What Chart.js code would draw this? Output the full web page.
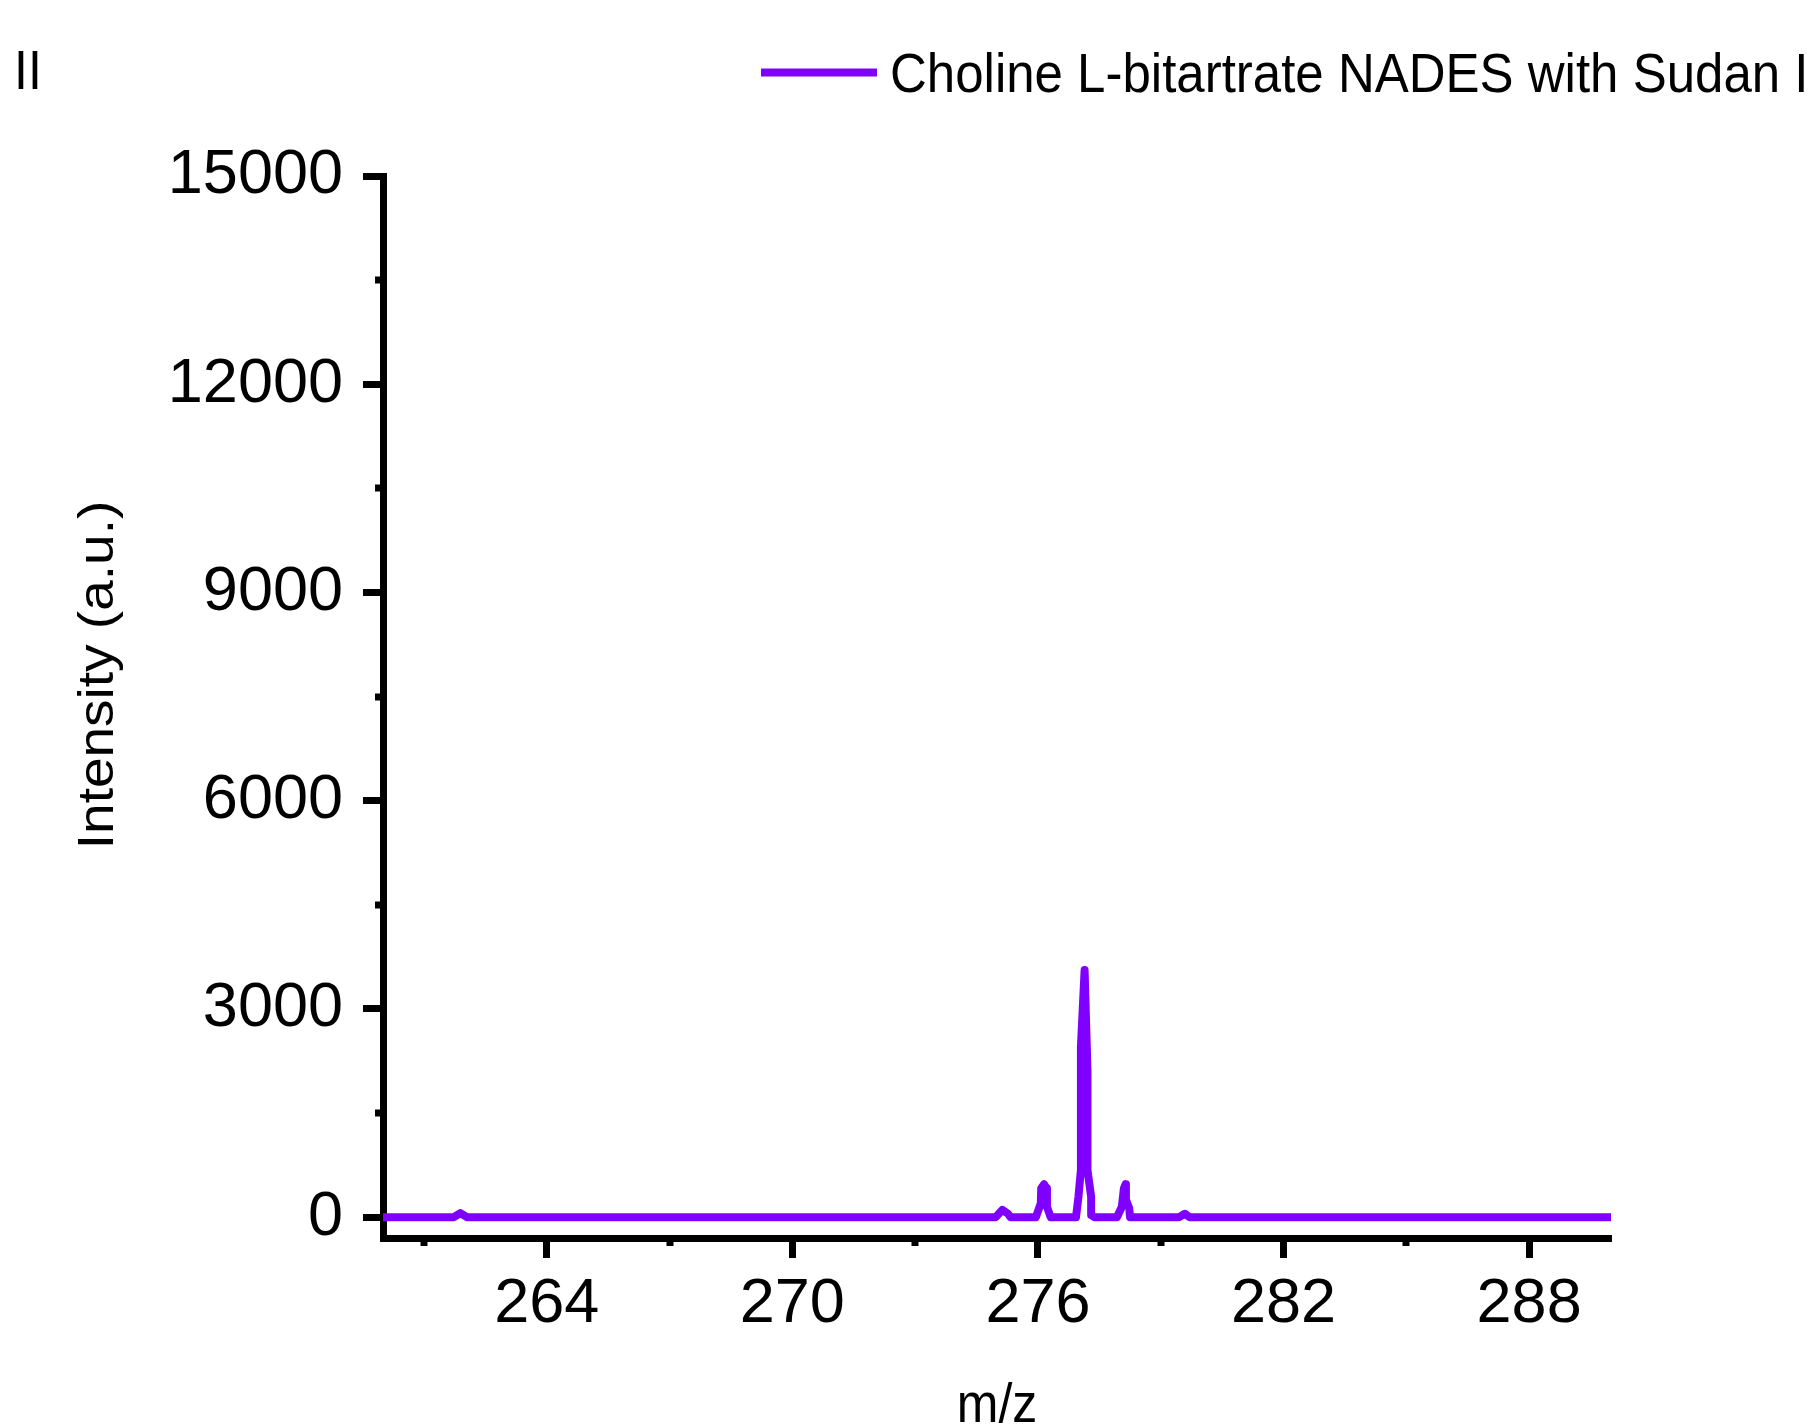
<!DOCTYPE html>
<html>
<head>
<meta charset="utf-8">
<title>Choline L-bitartrate NADES with Sudan I</title>
<script src="https://cdn.jsdelivr.net/npm/chart.js@4.4.1/dist/chart.umd.min.js"></script>
<style>
  html, body { margin: 0; padding: 0; background: #fff; }
  canvas { display: block; }
</style>
</head>
<body>
<canvas id="grafico" width="1816" height="1425"></canvas>
<script>
const mzValues = [
  260, 261.73, 261.89, 262.05,
  274.97, 275.13, 275.27, 275.33,
  275.95, 276.07, 276.08, 276.15, 276.21, 276.22, 276.31,
  276.93, 276.99, 277.05, 277.05, 277.14, 277.21, 277.21, 277.30, 277.30, 277.38,
  277.93, 278.05, 278.10, 278.14, 278.15, 278.23, 278.25,
  279.45, 279.59, 279.70,
  290
];
const intensityValues = [
  0, 0, 60, 0,
  0, 105, 50, 0,
  0, 200, 415, 475, 415, 150, 0,
  0, 295, 680, 2455, 3560, 2120, 680, 295, 30, 0,
  0, 150, 415, 475, 250, 130, 0,
  0, 50, 0,
  0
];
const xTicks = [264, 270, 276, 282, 288];
const xMinorTicks = [261, 267, 273, 279, 285];
const yTicks = [0, 3000, 6000, 9000, 12000, 15000];
const yMinorTicks = [1500, 4500, 7500, 10500, 13500];

const serieLabel = 'Choline L-bitartrate NADES with Sudan I';
const panelLabel = 'II';
const xTitle = 'm/z';
const yTitle = 'Intensity (a.u.)';

const purpura = '#8000FF';
const fuente = '"Liberation Sans", Arial, sans-serif';

Chart.defaults.font.family = fuente;
Chart.defaults.color = '#000';

// texto con un poco de estiramiento vertical como en la figura original
function textoEstirado(ctx, texto, x, y, sx, sy, rot) {
  ctx.save();
  ctx.translate(x, y);
  if (rot) ctx.rotate(rot);
  ctx.scale(sx, sy);
  ctx.fillText(texto, 0, 0);
  ctx.restore();
}

// ticks menores, titulos, leyenda y etiqueta del panel
const extras = {
  id: 'extras',
  afterDraw(chart) {
    const ctx = chart.ctx;
    const xs = chart.scales.x;
    const ys = chart.scales.y;
    const area = chart.chartArea;

    ctx.save();
    ctx.strokeStyle = '#000';
    ctx.lineWidth = 7;
    yMinorTicks.forEach(v => {
      const py = Math.round(ys.getPixelForValue(v));
      ctx.beginPath();
      ctx.moveTo(area.left - 8, py);
      ctx.lineTo(area.left, py);
      ctx.stroke();
    });
    xMinorTicks.forEach(v => {
      const px = Math.round(xs.getPixelForValue(v));
      ctx.beginPath();
      ctx.moveTo(px, area.bottom);
      ctx.lineTo(px, area.bottom + 8);
      ctx.stroke();
    });

    ctx.fillStyle = '#000';
    ctx.font = '50px ' + fuente;
    ctx.textBaseline = 'alphabetic';

    ctx.textAlign = 'left';
    textoEstirado(ctx, panelLabel, 14, 89, 1, 1.1);

    ctx.textAlign = 'center';
    textoEstirado(ctx, xTitle, (area.left + area.right) / 2, 1422, 1, 1.1);
    textoEstirado(ctx, yTitle, 113, 675, 1.1, 1, -Math.PI / 2);

    // leyenda
    ctx.strokeStyle = purpura;
    ctx.lineWidth = 8;
    ctx.beginPath();
    ctx.moveTo(761, 72.5);
    ctx.lineTo(877, 72.5);
    ctx.stroke();
    ctx.font = '51px ' + fuente;
    ctx.textAlign = 'left';
    textoEstirado(ctx, chart.data.datasets[0].label, 890, 92, 1, 1.1);
    ctx.restore();
  }
};

const puntos = mzValues.map((x, i) => ({ x: x, y: intensityValues[i] }));

new Chart(document.getElementById('grafico'), {
  type: 'scatter',
  data: {
    datasets: [{
      label: serieLabel,
      data: puntos,
      showLine: true,
      borderColor: purpura,
      backgroundColor: purpura,
      borderWidth: 8,
      borderJoinStyle: 'round',
      pointRadius: 0,
      tension: 0
    }]
  },
  options: {
    responsive: false,
    animation: false,
    devicePixelRatio: 1,
    layout: { padding: { top: 176, right: 205, left: 0, bottom: 0 } },
    plugins: {
      legend: { display: false },
      tooltip: { enabled: false }
    },
    scales: {
      x: {
        type: 'linear',
        min: 260,
        max: 290,
        afterBuildTicks: s => { s.ticks = xTicks.map(v => ({ value: v })); },
        afterFit: s => { s.height = 187; },
        grid: { display: true, drawOnChartArea: false, drawTicks: true, tickLength: 20, tickWidth: 7, tickColor: '#000' },
        border: { display: true, width: 7, color: '#000' },
        ticks: {
          padding: 15,
          maxRotation: 0,
          autoSkip: false,
          font: { size: 63, lineHeight: 1 },
          callback: v => String(v)
        }
      },
      y: {
        type: 'linear',
        min: -300,
        max: 15000,
        afterBuildTicks: s => { s.ticks = yTicks.map(v => ({ value: v })); },
        afterFit: s => { s.width = 383; },
        grid: { display: true, drawOnChartArea: false, drawTicks: true, tickLength: 20, tickWidth: 7, tickColor: '#000' },
        border: { display: true, width: 7, color: '#000' },
        ticks: {
          padding: 20,
          autoSkip: false,
          font: { size: 63, lineHeight: 1 },
          callback: v => String(v)
        }
      }
    }
  },
  plugins: [extras]
});
</script>
</body>
</html>
